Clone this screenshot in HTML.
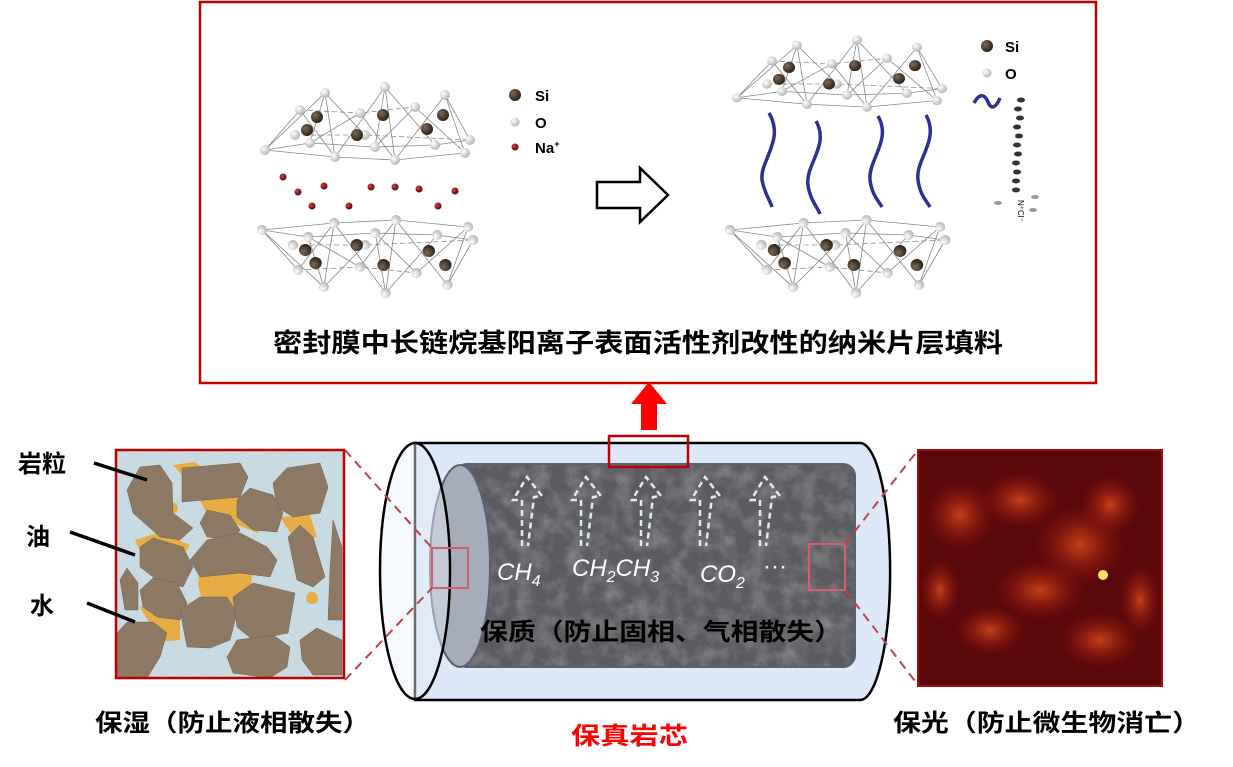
<!DOCTYPE html>
<html><head><meta charset="utf-8"><style>
html,body{margin:0;padding:0;background:#fff;}
svg{display:block}
text{font-family:"Liberation Sans","Noto Sans CJK SC",sans-serif;}
.cn{font-family:"Noto Sans CJK SC","WenQuanYi Zen Hei",sans-serif;font-weight:bold;}
</style></head><body>
<svg width="1233" height="767" viewBox="0 0 1233 767" xmlns="http://www.w3.org/2000/svg">
<defs>
<radialGradient id="ob" cx="35%" cy="35%" r="65%"><stop offset="0" stop-color="#fff"/><stop offset="1" stop-color="#b8b8b8"/></radialGradient>
<radialGradient id="sb" cx="35%" cy="35%" r="65%"><stop offset="0" stop-color="#7a6a5a"/><stop offset="1" stop-color="#2e2418"/></radialGradient>
<radialGradient id="nb" cx="35%" cy="35%" r="65%"><stop offset="0" stop-color="#d04040"/><stop offset="1" stop-color="#5a0a0a"/></radialGradient>
<filter id="tex" x="0" y="0" width="100%" height="100%"><feTurbulence type="fractalNoise" baseFrequency="0.06" numOctaves="4" seed="3"/><feColorMatrix type="matrix" values="0 0 0 0 0.6  0 0 0 0 0.6  0 0 0 0 0.62  1.2 0 0 0 -0.45"/><feComposite in2="SourceGraphic" operator="in"/></filter>
<filter id="rtex"><feTurbulence type="fractalNoise" baseFrequency="0.6" numOctaves="2" seed="5"/><feColorMatrix type="matrix" values="0 0 0 0 0.35 0 0 0 0 0.28 0 0 0 0 0.2 0 0 0 0.5 0"/><feComposite in2="SourceGraphic" operator="in"/></filter>
<g id="sheet">
 <g stroke="#888" stroke-width="0.8" fill="none">
  <path d="M0,65 L60,8 L70,72 M60,8 L45,58 M60,8 L100,50 M35,25 L0,65 M35,25 L70,72 M120,2 L70,72 M120,2 L130,75 M120,2 L110,62 M120,2 L170,60 M95,28 L45,58 M95,28 L130,75 M180,10 L130,75 M180,10 L200,68 M180,10 L205,55 M150,22 L110,62 M150,22 L200,68"/>
  <path d="M0,65 L70,72 L130,75 L200,68 M0,65 L45,58 L110,62 L170,60 L205,55" />
  <path d="M30,50 L100,50 L205,55 M35,25 L95,28 L150,22" stroke-dasharray="5 3"/>
 </g>
 <g fill="url(#ob)">
  <circle cx="60" cy="8" r="5"/><circle cx="120" cy="2" r="5"/><circle cx="180" cy="10" r="5"/>
  <circle cx="35" cy="25" r="5"/><circle cx="95" cy="28" r="5"/><circle cx="150" cy="22" r="5"/>
  <circle cx="0" cy="65" r="5"/><circle cx="45" cy="58" r="5"/><circle cx="70" cy="72" r="5"/><circle cx="110" cy="62" r="5"/><circle cx="130" cy="75" r="5"/><circle cx="170" cy="60" r="5"/><circle cx="200" cy="68" r="5"/><circle cx="205" cy="55" r="5"/><circle cx="100" cy="50" r="5"/><circle cx="30" cy="50" r="5"/>
 </g>
 <g fill="url(#sb)">
  <circle cx="42" cy="45" r="6"/><circle cx="52" cy="32" r="6"/><circle cx="92" cy="50" r="6"/><circle cx="118" cy="30" r="6"/><circle cx="162" cy="44" r="6"/><circle cx="178" cy="30" r="6"/>
 </g>
</g>
</defs>

<rect x="200" y="2" width="896" height="381" fill="#fff" stroke="#c00000" stroke-width="2.5"/>
<use href="#sheet" transform="translate(265,85)"/>
<use href="#sheet" transform="translate(262,295) scale(1.03,-1)"/>
<g fill="url(#nb)">
 <circle cx="283" cy="177" r="3.5"/><circle cx="298" cy="192" r="3.5"/><circle cx="324" cy="186" r="3.5"/><circle cx="312" cy="206" r="3.5"/><circle cx="349" cy="206" r="3.5"/><circle cx="371" cy="187" r="3.5"/><circle cx="395" cy="187" r="3.5"/><circle cx="419" cy="189" r="3.5"/><circle cx="455" cy="191" r="3.5"/><circle cx="438" cy="206" r="3.5"/>
</g>
<circle cx="515" cy="95" r="6" fill="url(#sb)"/><circle cx="515" cy="122" r="4.5" fill="url(#ob)"/><circle cx="515" cy="147" r="3.5" fill="url(#nb)"/>
<text x="535" y="101" font-size="15" font-weight="bold">Si</text>
<text x="535" y="128" font-size="15" font-weight="bold">O</text>
<text x="535" y="153" font-size="15" font-weight="bold">Na<tspan font-size="9" dy="-6">+</tspan></text>

<polygon points="597,182 640,182 640,168 668,195 640,222 640,208 597,208" fill="#fff" stroke="#000" stroke-width="2.5"/>

<use href="#sheet" transform="translate(737,38) scale(1,0.92)"/>
<use href="#sheet" transform="translate(730,295) scale(1.05,-1)"/>
<g stroke="#2e3192" stroke-width="3.5" fill="none">
 <path d="M769,113 C785,140 760,160 762,180 C765,195 770,200 772,207"/>
 <path d="M816,121 C830,145 805,165 808,185 C810,200 818,208 820,214"/>
 <path d="M878,116 C892,140 868,160 870,180 C872,195 878,200 882,207"/>
 <path d="M926,115 C940,140 915,160 918,180 C920,195 926,200 930,207"/>
 <path d="M974,103 C980,92 985,95 988,102 C991,110 996,108 1000,98"/>
</g>
<circle cx="987" cy="46" r="6" fill="url(#sb)"/><circle cx="987" cy="73" r="4.5" fill="url(#ob)"/>
<text x="1005" y="52" font-size="15" font-weight="bold">Si</text>
<text x="1005" y="79" font-size="15" font-weight="bold">O</text>
<g fill="#333">
 <ellipse cx="1021" cy="100" rx="4" ry="2.5"/><ellipse cx="1018" cy="109" rx="4" ry="2.5"/><ellipse cx="1020" cy="118" rx="4" ry="2.5"/><ellipse cx="1017" cy="127" rx="4" ry="2.5"/><ellipse cx="1019" cy="136" rx="4" ry="2.5"/><ellipse cx="1017" cy="145" rx="4" ry="2.5"/><ellipse cx="1018" cy="154" rx="4" ry="2.5"/><ellipse cx="1016" cy="163" rx="4" ry="2.5"/><ellipse cx="1017" cy="172" rx="4" ry="2.5"/><ellipse cx="1016" cy="181" rx="4" ry="2.5"/><ellipse cx="1016" cy="190" rx="4" ry="2.5"/>
 <ellipse cx="998" cy="203" rx="4" ry="2" fill="#999"/><ellipse cx="1035" cy="197" rx="4" ry="2" fill="#999"/><ellipse cx="1033" cy="210" rx="4" ry="2" fill="#999"/>
</g>
<text x="1018" y="200" font-size="8" transform="rotate(90 1018 200)">N⁺Cl⁻</text>

<text class="cn" x="273" y="352" font-size="26" textLength="730" lengthAdjust="spacingAndGlyphs">密封膜中长链烷基阳离子表面活性剂改性的纳米片层填料</text>

<polygon points="641,430 657,430 657,404 667,404 649,382 631,404 641,404" fill="#ff0000"/>

<path d="M415,443 L860,443 A30,128 0 0 1 860,700 L415,700 Z" fill="#dde9f8" stroke="#000" stroke-width="2.5"/>
<rect x="455" y="464" width="400" height="203" rx="12" fill="#5c5c60"/>
<rect x="455" y="464" width="400" height="203" rx="12" fill="#fff" filter="url(#tex)" opacity="0.55"/>
<rect x="455" y="464" width="400" height="203" rx="12" fill="none" stroke="#5a6272" stroke-width="2"/>
<ellipse cx="460" cy="566" rx="30" ry="101" fill="#a7adb8" stroke="#5a6272" stroke-width="2"/>
<ellipse cx="415" cy="571" rx="35" ry="128" fill="#e8f0fb" fill-opacity="0.45" stroke="#000" stroke-width="2.5"/>
<g fill="none" stroke="#dde9f8" stroke-width="2.5" stroke-dasharray="6 4">
 <path d="M522,546 L522,500 L513,500 L527,477 L542,496 L534,497 L528,546"/>
 <path d="M581,546 L581,500 L572,500 L586,477 L601,496 L593,497 L587,546"/>
 <path d="M641,546 L641,500 L632,500 L646,477 L661,496 L653,497 L647,546"/>
 <path d="M700,546 L700,500 L691,500 L705,477 L720,496 L712,497 L706,546"/>
 <path d="M760,546 L760,500 L751,500 L765,477 L780,496 L772,497 L766,546"/>
</g>
<g fill="#fff" font-size="24" font-style="italic">
<text x="497" y="580">CH<tspan font-size="16" dy="6">4</tspan></text>
<text x="572" y="576">CH<tspan font-size="16" dy="6">2</tspan><tspan dy="-6">CH</tspan><tspan font-size="16" dy="6">3</tspan></text>
<text x="700" y="582">CO<tspan font-size="16" dy="6">2</tspan></text>
<text x="763" y="574" font-style="normal">···</text>
</g>
<text class="cn" x="480" y="640" font-size="24" textLength="362" lengthAdjust="spacingAndGlyphs">保质（防止固相、气相散失）</text>
<rect x="609" y="436" width="79" height="31" fill="none" stroke="#c00000" stroke-width="2.5"/>
<rect x="432" y="548" width="36" height="40" fill="none" stroke="#d06070" stroke-width="2"/>
<rect x="809" y="544" width="36" height="46" fill="none" stroke="#d06070" stroke-width="2"/>
<g stroke="#c0404a" stroke-width="2" stroke-dasharray="9 6">
 <line x1="345" y1="450" x2="432" y2="548"/><line x1="345" y1="680" x2="432" y2="588"/>
 <line x1="845" y1="544" x2="918" y2="450"/><line x1="845" y1="590" x2="918" y2="685"/>
</g>

<rect x="116" y="450" width="228" height="228" fill="#cfe7f4"/>
<g fill="#f2b23c">
 <polygon points="173,465 195,462 205,470 182,475"/>
 <polygon points="200,500 240,497 262,520 258,533 225,520 205,510"/>
 <polygon points="135,540 160,532 190,545 180,560 150,575"/>
 <polygon points="200,557 235,548 253,560 250,600 235,615 205,610 198,585"/>
 <polygon points="140,607 160,600 180,612 180,640 160,642"/>
 <polygon points="280,517 310,515 317,537 295,540"/>
 <circle cx="172" cy="508" r="6"/><circle cx="312" cy="598" r="6"/>
</g>
<g fill="#8a7560" stroke="#6d5a46" stroke-width="0.5">
 <polygon points="127,490 140,467 160,465 172,483 173,513 193,528 180,540 160,537 133,513"/>
 <polygon points="182,468 240,463 248,477 240,497 182,502"/>
 <polygon points="273,483 287,468 320,463 328,487 320,513 293,517 277,507"/>
 <polygon points="237,500 250,488 273,495 283,513 277,532 253,530 237,517"/>
 <polygon points="200,523 207,510 230,515 240,530 233,540 207,537"/>
 <polygon points="140,547 153,538 183,547 193,567 183,587 157,580 140,567"/>
 <polygon points="190,560 207,540 240,533 267,547 277,560 270,577 240,573 200,577"/>
 <polygon points="288,537 300,525 313,537 325,577 313,587 297,580"/>
 <polygon points="330,570 333,520 342,547 342,620 328,620"/>
 <polygon points="120,580 127,568 138,583 138,610 125,610"/>
 <polygon points="140,590 153,578 177,583 187,603 180,620 157,617 143,607"/>
 <polygon points="180,610 200,597 227,597 237,613 230,640 210,648 187,647"/>
 <polygon points="233,597 253,583 295,593 288,633 253,640 237,627"/>
 <polygon points="117,633 127,622 153,622 167,633 160,657 147,678 117,678"/>
 <polygon points="227,657 237,640 273,635 290,647 287,667 270,678 233,673"/>
 <polygon points="300,640 317,628 342,640 342,675 313,675 302,660"/>
</g>
<rect x="116" y="450" width="228" height="228" fill="#fff" filter="url(#rtex)" opacity="0.6"/>
<rect x="116" y="450" width="228" height="228" fill="none" stroke="#c00000" stroke-width="2.5"/>
<text class="cn" x="18" y="472" font-size="24">岩粒</text>
<text class="cn" x="26" y="545" font-size="24">油</text>
<text class="cn" x="30" y="614" font-size="24">水</text>
<g stroke="#000" stroke-width="3.5"><line x1="94" y1="463" x2="147" y2="480"/><line x1="70" y1="532" x2="135" y2="555"/><line x1="87" y1="603" x2="135" y2="622"/></g>

<defs>
<radialGradient id="rb"><stop offset="0" stop-color="#d84a1c" stop-opacity="0.85"/><stop offset="1" stop-color="#a01810" stop-opacity="0"/></radialGradient>
</defs>
<rect x="918" y="450" width="244" height="236" fill="#5a080a"/>
<g fill="url(#rb)">
 <ellipse cx="960" cy="515" rx="35" ry="35"/><ellipse cx="1020" cy="500" rx="40" ry="28"/><ellipse cx="1080" cy="545" rx="45" ry="40"/>
 <ellipse cx="1040" cy="590" rx="45" ry="30"/><ellipse cx="1110" cy="505" rx="30" ry="30"/><ellipse cx="990" cy="630" rx="35" ry="25"/>
 <ellipse cx="1100" cy="640" rx="40" ry="28"/><ellipse cx="940" cy="590" rx="20" ry="30"/><ellipse cx="1140" cy="600" rx="20" ry="35"/>
</g>
<circle cx="1103" cy="575" r="5" fill="#ffe060"/>
<rect x="918" y="450" width="244" height="236" fill="none" stroke="#a01010" stroke-width="2"/>

<text class="cn" x="95" y="731" font-size="24" textLength="275" lengthAdjust="spacingAndGlyphs">保湿（防止液相散失）</text>
<text class="cn" x="571" y="744" font-size="24" fill="#ff0000" textLength="117" lengthAdjust="spacingAndGlyphs">保真岩芯</text>
<text class="cn" x="893" y="731" font-size="24" textLength="307" lengthAdjust="spacingAndGlyphs">保光（防止微生物消亡）</text>
</svg>
</body></html>
